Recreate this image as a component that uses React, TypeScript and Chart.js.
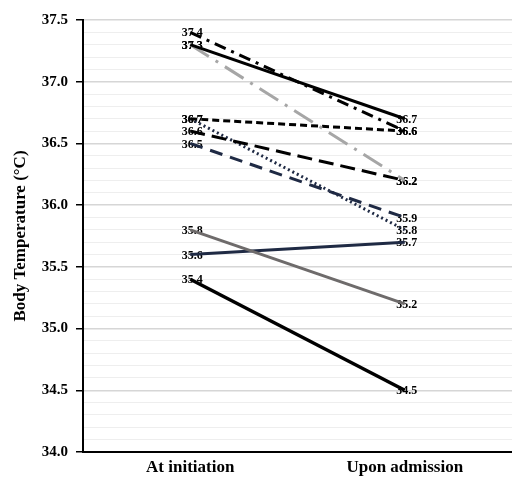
import React, { useEffect, useRef } from "react";
import { Chart, registerables } from "chart.js";

Chart.register(...registerables);

const categories = ["At initiation", "Upon admission"];

const seriesSolidTop = [37.3, 36.7];
const seriesDashDotBlack = [37.4, 36.6];
const seriesDashDotGray = [37.3, 36.2];
const seriesShortDash = [36.7, 36.6];
const seriesLongDash = [36.6, 36.2];
const seriesDottedNavy = [36.7, 35.8];
const seriesDashedNavy = [36.5, 35.9];
const seriesGraySolid = [35.8, 35.2];
const seriesNavySolid = [35.6, 35.7];
const seriesBlackBottom = [35.4, 34.5];

const yMin = 34.0;
const yMax = 37.5;
const yStep = 0.1;

const FONT = "'Liberation Serif', 'Times New Roman', serif";

const isMajor = (v: number) => Math.abs(v * 2 - Math.round(v * 2)) < 1e-6;

const labelPlugin = {
  id: "pointLabels",
  beforeDatasetsDraw(chart: any) {
    const ctx = chart.ctx;
    ctx.save();
    ctx.font = `bold 12px ${FONT}`;
    ctx.fillStyle = "#000";
    ctx.textAlign = "center";
    ctx.textBaseline = "middle";
    chart.data.datasets.forEach((ds: any, i: number) => {
      const meta = chart.getDatasetMeta(i);
      meta.data.forEach((pt: any, j: number) => {
        ctx.fillText(Number(ds.data[j]).toFixed(1), pt.x + 2, pt.y + 1);
      });
    });
    ctx.restore();
  },
};

export default function App() {
  const ref = useRef<HTMLCanvasElement | null>(null);
  useEffect(() => {
    if (!ref.current) return;
    const mk = (data: number[], color: string, dash: number[], width = 3) => ({
      data,
      borderColor: color,
      backgroundColor: color,
      borderDash: dash,
      borderWidth: width,
      pointRadius: 0,
      fill: false,
      tension: 0,
    });
    const chart = new Chart(ref.current, {
      type: "line",
      data: {
        labels: categories,
        datasets: [
          mk(seriesSolidTop, "#000000", [], 3),
          mk(seriesDashDotBlack, "#000000", [12, 6, 3, 6], 3),
          mk(seriesDashDotGray, "#a6a6a6", [22, 8, 3, 8], 3),
          mk(seriesShortDash, "#000000", [7, 4], 3),
          mk(seriesLongDash, "#000000", [15, 7], 3),
          mk(seriesDottedNavy, "#1f2a44", [2, 3], 3),
          mk(seriesDashedNavy, "#1f2a44", [13, 8], 3),
          mk(seriesGraySolid, "#6e6b6b", [], 3),
          mk(seriesNavySolid, "#1f2a44", [], 3),
          mk(seriesBlackBottom, "#000000", [], 3.5),
        ],
      },
      options: {
        responsive: false,
        animation: false,
        layout: { padding: { top: 20, right: 0, left: 0, bottom: 0 } },
        plugins: {
          legend: { display: false },
          tooltip: { enabled: false },
        },
        scales: {
          x: {
            offset: true,
            grid: { display: false, drawTicks: false },
            border: { display: true, color: "#000", width: 2 },
            ticks: {
              color: "#000",
              font: { family: FONT, size: 17, weight: "bold" },
              padding: 5,
            },
            afterFit: (scale: any) => {
              scale.height = 29;
            },
          },
          y: {
            min: yMin,
            max: yMax,
            border: { display: true, color: "#000", width: 2 },
            grid: {
              color: (c: any) => (c.tick && isMajor(c.tick.value) ? "#d6d6d6" : "#eeeeee"),
              lineWidth: (c: any) => (c.tick && isMajor(c.tick.value) ? 1.5 : 1),
              tickColor: (c: any) => (c.tick && isMajor(c.tick.value) ? "#000" : "rgba(0,0,0,0)"),
              tickLength: 7,
              tickWidth: 1.5,
            },
            ticks: {
              stepSize: yStep,
              autoSkip: false,
              color: "#000",
              padding: 8,
              font: { family: FONT, size: 15, weight: "bold" },
              callback: (v: any) => (isMajor(Number(v)) ? Number(v).toFixed(1) : ""),
            },
            title: {
              display: true,
              text: "Body Temperature (°C)",
              color: "#000",
              font: { family: FONT, size: 17, weight: "bold" },
              padding: { top: 10, bottom: 4 },
            },
            afterFit: (scale: any) => {
              scale.width = 83;
            },
          },
        },
      },
      plugins: [labelPlugin],
    } as any);
    return () => chart.destroy();
  }, []);
  return (
    <div style={{ position: "absolute", left: 0, top: 0, width: 512, height: 481 }}>
      <canvas ref={ref} width={512} height={481} />
    </div>
  );
}
